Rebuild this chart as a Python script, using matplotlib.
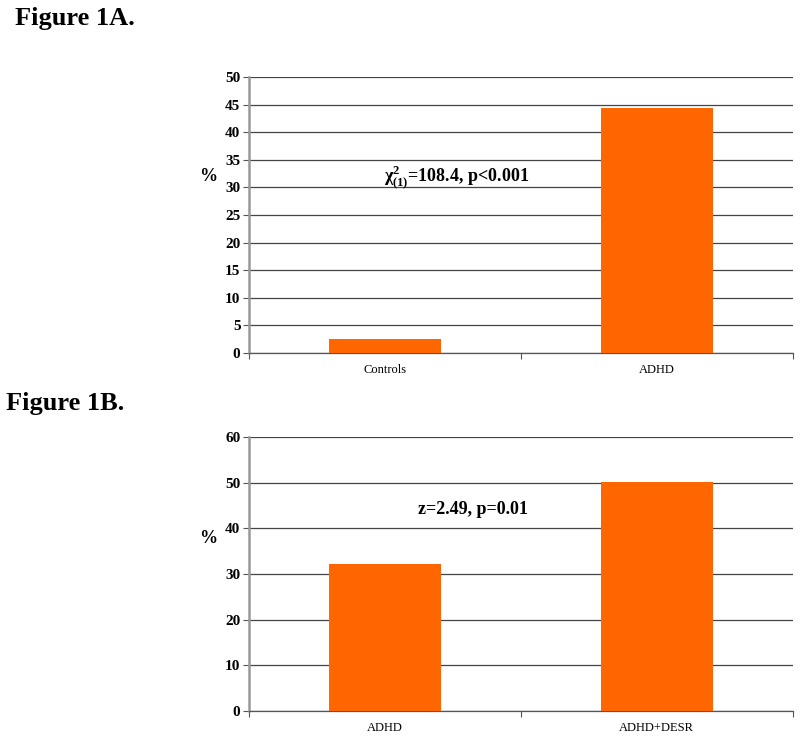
import matplotlib
matplotlib.use("Agg")
import matplotlib.pyplot as plt

# data
cats_a = ["Controls", "ADHD"]
vals_a = [2.6, 44.4]
cats_b = ["ADHD", "ADHD+DESR"]
vals_b = [32.2, 50.2]
ticks_a = list(range(0, 51, 5))
ticks_b = list(range(0, 61, 10))

plt.rcParams['font.family'] = ['Liberation Serif', 'DejaVu Serif']
plt.rcParams['mathtext.fontset'] = 'custom'
plt.rcParams['mathtext.rm'] = 'Liberation Serif:bold'
plt.rcParams['mathtext.it'] = 'Liberation Serif:bold'
plt.rcParams['mathtext.bf'] = 'Liberation Serif:bold'
plt.rcParams['mathtext.default'] = 'rm'

ORANGE = "#FF6600"
GRID = "#444444"
SPINE = "#999999"


def style_axes(ax, cats, vals, yticks, note, note_xy, ylab_y):
    x = list(range(len(cats)))
    ax.bar(x, vals, width=0.41, color=ORANGE, zorder=3)
    ax.set_xlim(-0.5, len(cats) - 0.5)
    ax.set_ylim(yticks[0], yticks[-1])
    ax.set_yticks(yticks)
    ax.set_yticklabels([str(t) for t in yticks], fontweight='bold', fontsize=11)
    ax.yaxis.grid(True, color=GRID, linewidth=0.9, zorder=0)
    # category boundary ticks, labels in the middle
    ax.set_xticks([i - 0.5 for i in range(len(cats) + 1)])
    ax.set_xticklabels([])
    ax.set_xticks(x, minor=True)
    ax.set_xticklabels(cats, minor=True, fontsize=9)
    ax.tick_params(axis='x', which='minor', length=0, pad=8)
    ax.tick_params(axis='x', which='major', length=4, color="#555555")
    ax.tick_params(axis='y', length=4, color="#555555", pad=2)
    for s in ['top', 'right']:
        ax.spines[s].set_visible(False)
    ax.spines['left'].set_color(SPINE)
    ax.spines['left'].set_linewidth(1.8)
    ax.spines['bottom'].set_color("#555555")
    ax.spines['bottom'].set_linewidth(0.9)
    ax.set_ylabel("%", rotation=0, fontweight='bold', fontsize=13,
                  ha='center', va='center')
    ax.yaxis.set_label_coords(-0.075, ylab_y)
    ax.text(note_xy[0], note_xy[1], note, transform=ax.transAxes,
            fontsize=13, fontweight='bold', ha='center', va='center', zorder=4)


fig = plt.figure(figsize=(8, 7.36), dpi=100)
ax1 = fig.add_axes([0.311, 0.5204, 0.68, 0.375])
ax2 = fig.add_axes([0.311, 0.034, 0.68, 0.3723])

style_axes(ax1, cats_a, vals_a, ticks_a,
           r"$\chi^{2}_{(1)}$=108.4, p<0.001", (0.382, 0.635), 0.638)
style_axes(ax2, cats_b, vals_b, ticks_b,
           "z=2.49, p=0.01", (0.412, 0.737), 0.628)

fig.text(0.019, 0.975, "Figure 1A.", fontsize=19, fontweight='bold', va='center')
fig.text(0.008, 0.452, "Figure 1B.", fontsize=19, fontweight='bold', va='center')

fig.savefig("out.png", dpi=100)
